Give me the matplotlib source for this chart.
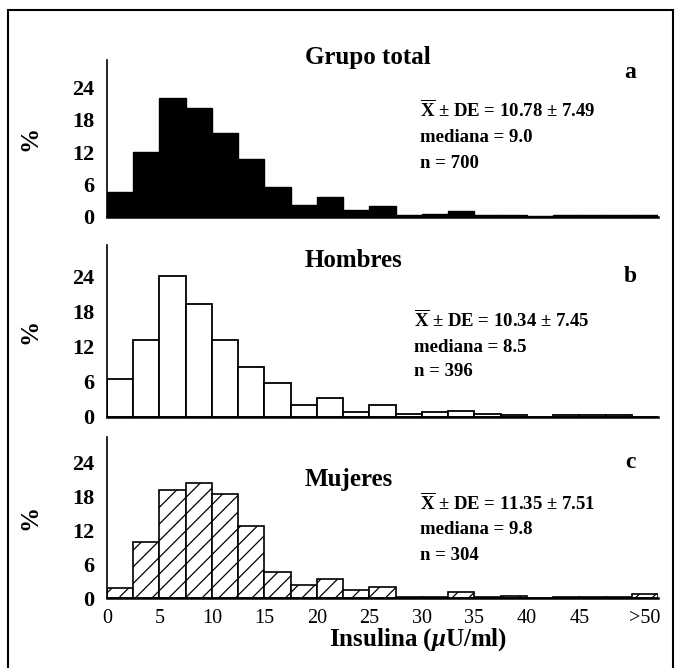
import matplotlib
matplotlib.use("Agg")
import matplotlib.pyplot as plt
from matplotlib.patches import Rectangle

plt.rcParams['font.family'] = ['Liberation Serif', 'DejaVu Serif']
plt.rcParams['font.weight'] = 'bold'
plt.rcParams['mathtext.fontset'] = 'custom'
plt.rcParams['mathtext.rm'] = 'Liberation Serif:bold'
plt.rcParams['mathtext.bf'] = 'Liberation Serif:bold'
plt.rcParams['mathtext.it'] = 'Liberation Serif:italic:bold'
plt.rcParams['hatch.linewidth'] = 0.9

# ---- data ----
bin_starts = [0, 2.5, 5, 7.5, 10, 12.5, 15, 17.5, 20, 22.5, 25, 27.5, 30, 32.5,
              35, 37.5, 40, 42.5, 45, 47.5, 50]
bin_width = 2.5
total_pct = [4.6, 12.0, 22.0, 20.1, 15.6, 10.7, 5.5, 2.3, 3.7, 1.3, 2.1, 0.3, 0.6,
             1.1, 0.4, 0.4, 0.1, 0.3, 0.3, 0.3, 0.3]
men_pct = [6.4, 13.2, 24.0, 19.3, 13.2, 8.5, 5.8, 2.0, 3.3, 0.8, 2.0, 0.5, 0.8,
           1.1, 0.5, 0.3, 0.0, 0.3, 0.3, 0.3, 0.0]
women_pct = [1.8, 9.9, 19.2, 20.5, 18.4, 12.8, 4.7, 2.3, 3.4, 1.4, 2.0, 0.2, 0.2,
             1.0, 0.1, 0.3, 0.0, 0.1, 0.1, 0.1, 0.7]

panel_titles = ["Grupo total", "Hombres", "Mujeres"]
panel_letters = ["a", "b", "c"]
stats_lines = [
    [r"$\overline{\mathrm{X}}$ ± DE = 10.78 ± 7.49", "mediana = 9.0", "n = 700"],
    [r"$\overline{\mathrm{X}}$ ± DE = 10.34 ± 7.45", "mediana = 8.5", "n = 396"],
    [r"$\overline{\mathrm{X}}$ ± DE = 11.35 ± 7.51", "mediana = 9.8", "n = 304"],
]
y_ticks = [0, 6, 12, 18, 24]
x_tick_pos = [0, 5, 10, 15, 20, 25, 30, 35, 40, 45, 51.25]
x_tick_labels = ["0", "5", "10", "15", "20", "25", "30", "35", "40", "45", ">50"]
x_label = r"Insulina ($\mu$U/ml)"

W, H = 677, 668
fig = plt.figure(figsize=(W / 100, H / 100), dpi=100)


def fx(x):
    return x / W


def fy(y):
    return 1 - y / H


# axes geometry in pixels: (top, bottom, ymax)
geo = [(60, 217, 29.0), (245, 417, 29.3), (437, 598, 28.6)]
left_px, right_px = 107, 658

styles = [
    dict(facecolor="black", edgecolor="black", linewidth=1.0),
    dict(facecolor="white", edgecolor="black", linewidth=1.3),
    dict(facecolor="white", edgecolor="black", linewidth=1.2, hatch="//"),
]
series = [total_pct, men_pct, women_pct]
title_base = [64, 267, 486]
letter_y = [72, 277, 463]
stats_y = [[110, 137, 163], [320, 347, 371], [503, 530, 555]]
stats_x = [420, 414, 420]

for i in range(3):
    top, bot, ymax = geo[i]
    ax = fig.add_axes([fx(left_px), fy(bot), fx(right_px - left_px), (bot - top) / H])
    ax.bar(bin_starts, series[i], width=bin_width, align="edge", **styles[i])
    ax.set_xlim(0, 52.5)
    ax.set_ylim(0, ymax)
    for s in ["top", "right"]:
        ax.spines[s].set_visible(False)
    ax.spines["left"].set_linewidth(1.2)
    ax.spines["bottom"].set_linewidth(1.8)
    ax.set_yticks(y_ticks)
    ax.set_yticklabels([str(t) for t in y_ticks], fontsize=16, fontweight="bold")
    ax.tick_params(axis="y", length=0, pad=9)
    if i < 2:
        ax.set_xticks([])
    else:
        ax.set_xticks(x_tick_pos)
        ax.set_xticklabels(x_tick_labels, fontsize=14.5, fontweight="normal")
        ax.tick_params(axis="x", length=0, pad=8)
    fig.text(fx(30), fy((top + bot) / 2), "%", rotation=90, fontsize=18,
             fontweight="bold", ha="center", va="center")
    fig.text(fx(305), fy(title_base[i]), panel_titles[i], fontsize=18,
             fontweight="bold", ha="left", va="baseline")
    fig.text(fx(630), fy(letter_y[i]), panel_letters[i], fontsize=17,
             fontweight="bold", ha="center", va="center")
    for line, yy in zip(stats_lines[i], stats_y[i]):
        fig.text(fx(stats_x[i]), fy(yy), line, fontsize=13.5,
                 fontweight="bold", ha="left", va="center")

fig.text(fx(418), fy(640), x_label, fontsize=18, fontweight="bold",
         ha="center", va="center")

fig.add_artist(Rectangle((fx(8), -0.05), fx(673 - 8), fy(10) + 0.05,
                         transform=fig.transFigure, fill=False,
                         edgecolor="black", linewidth=1.5))

fig.savefig("out.png", dpi=100)
